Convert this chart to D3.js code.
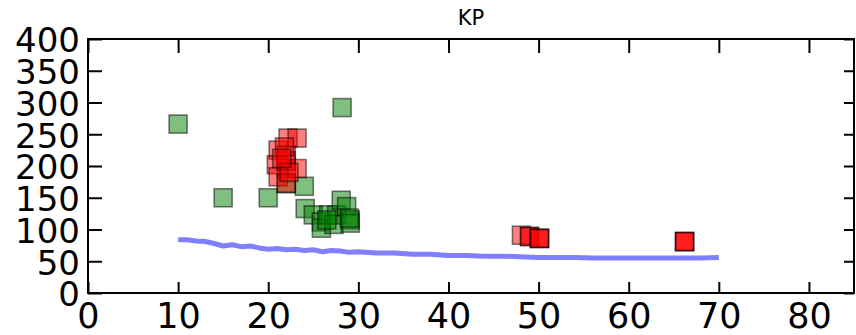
<!DOCTYPE html>
<html lang="en">
<head>
    <title>KP</title>
    <script src="https://d3js.org/d3.v7.min.js"></script>
    <style>
        body { margin: 0; background: #fff; }
        text { font-family: "DejaVu Sans", sans-serif; fill: #000; }
        .tick line { stroke: #000; stroke-width: 2; }
    </style>
</head>
<body>

<script>
    // tick labels
    const xTicks = [0, 10, 20, 30, 40, 50, 60, 70, 80];
    const yTicks = [0, 50, 100, 150, 200, 250, 300, 350, 400];

    // green squares
    const greenX = [10, 15, 20, 28.2, 24, 24.1, 22, 25, 25.9, 25.9, 26.7, 27.6, 27.3, 28.1, 28.7, 29.1, 29.1, 29, 26.5];
    const greenY = [266, 150, 150, 292, 168, 133, 172, 123, 112, 102, 123, 123, 108, 146, 136, 115, 110, 118, 115];

    // red squares
    const redX = [21.1, 22.2, 23.2, 20.9, 22, 22, 23.2, 21.1, 22, 22, 21.8, 22.3, 21.5, 48.1, 49, 49, 50.1, 50.1, 50.1, 66.2, 66.2, 66.2];
    const redY = [225, 244, 244, 202, 217, 196, 196, 183, 173, 208, 230, 190, 212, 91, 89, 89, 86, 86, 86, 81, 81, 81];

    // blue curve
    const lineX = [10, 11, 12, 13, 14, 15, 16, 17, 18, 19, 20, 21, 22, 23, 24, 25, 26, 27, 28, 29, 30,
                   32, 34, 36, 38, 40, 42, 44, 46, 48, 50, 52, 54, 56, 58, 60, 62, 64, 66, 68, 70];
    const lineY = [84, 84, 82, 81, 78, 74, 76, 73, 74, 71, 69, 70, 68, 69, 67, 68, 65, 67, 66, 64, 65,
                   63, 63, 61, 61, 59, 59, 58, 58, 57, 56, 56, 56, 55, 55, 55, 55, 55, 55, 55, 56];

    const W = 856, H = 335;
    const mLeft = 88, mRight = 854, mTop = 39, mBottom = 293;

    const x = d3.scaleLinear().domain([0, 85]).range([mLeft, mRight]);
    const y = d3.scaleLinear().domain([0, 400]).range([mBottom, mTop]);

    const svg = d3.select("body").append("svg").attr("width", W).attr("height", H);

    // blue line
    svg.append("path")
        .datum(d3.zip(lineX, lineY))
        .attr("d", d3.line().x(d => x(d[0])).y(d => y(d[1])))
        .attr("fill", "none")
        .attr("stroke", "#8080ff")
        .attr("stroke-width", 5)
        .attr("stroke-linejoin", "round");

    const size = 18;
    function squares(xs, ys, color) {
        svg.append("g")
            .selectAll("rect")
            .data(d3.zip(xs, ys)).join("rect")
            .attr("x", d => x(d[0]) - size / 2)
            .attr("y", d => y(d[1]) - size / 2)
            .attr("width", size).attr("height", size)
            .attr("fill", color).attr("fill-opacity", .5)
            .attr("stroke", "#000").attr("stroke-opacity", .5)
            .attr("stroke-width", 1.6);
    }
    squares(greenX, greenY, "#008000");
    squares(redX, redY, "#ff0000");

    // axes with inward ticks
    const gx = svg.append("g").attr("transform", `translate(0,${mBottom})`)
        .call(d3.axisBottom(x).tickValues(xTicks).tickSizeInner(-11).tickSizeOuter(0).tickPadding(10));
    gx.selectAll("text").style("font-size", "35px");

    const gy = svg.append("g").attr("transform", `translate(${mLeft},0)`)
        .call(d3.axisLeft(y).tickValues(yTicks).tickSizeInner(-14).tickSizeOuter(0).tickPadding(8));
    gy.selectAll("text").style("font-size", "34px").attr("dy", "0.38em");

    svg.append("g").attr("transform", `translate(0,${mTop})`)
        .call(d3.axisTop(x).tickValues(xTicks).tickSizeInner(-14).tickSizeOuter(0).tickFormat(""));
    svg.append("g").attr("transform", `translate(${mRight},0)`)
        .call(d3.axisRight(y).tickValues(yTicks).tickSizeInner(-10).tickSizeOuter(0).tickFormat(""));

    svg.selectAll(".domain").remove();

    svg.append("rect")
        .attr("x", mLeft).attr("y", mTop)
        .attr("width", mRight - mLeft).attr("height", mBottom - mTop)
        .attr("fill", "none").attr("stroke", "#000").attr("stroke-width", 2);

    svg.append("text")
        .attr("x", (mLeft + mRight) / 2).attr("y", 25)
        .attr("text-anchor", "middle")
        .style("font-size", "21px")
        .text("KP");
</script>

</body>
</html>
